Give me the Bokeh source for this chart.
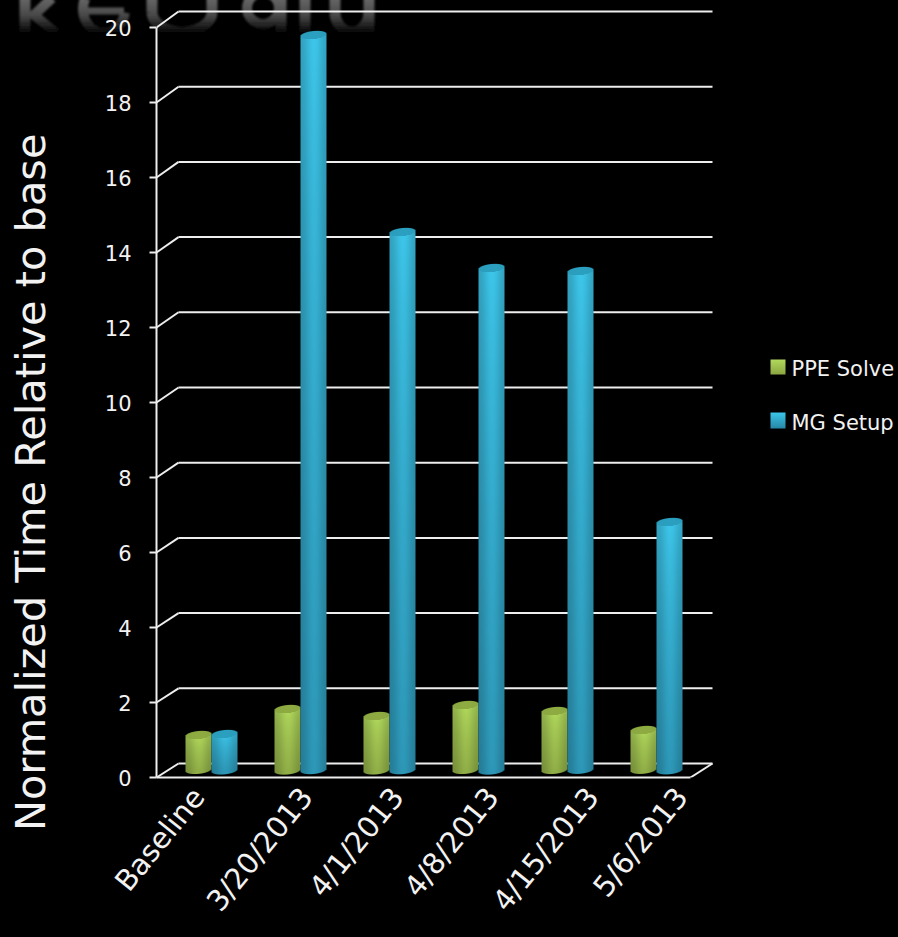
from urllib.parse import quote

import numpy as np
from bokeh.embed import file_html
from bokeh.resources import INLINE
from bokeh.plotting import figure
from bokeh.core.properties import value
from bokeh.models import FixedTicker, LinearAxis, Range1d, Title

# ---- chart values -------------------------------------------------------
categories = ["Baseline", "3/20/2013", "4/1/2013", "4/8/2013", "4/15/2013", "5/6/2013"]
ppe_solve = [0.93, 1.64, 1.45, 1.73, 1.57, 1.06]
mg_setup = [0.97, 19.60, 14.35, 13.40, 13.30, 6.62]
y_ticks = list(range(0, 21, 2))
y_title = "Normalized Time Relative to base"
legend_names = ["PPE Solve", "MG Setup"]

# ---- layout -------------------------------------------------------------
W, H = 898, 937
LEFT, BASE = 156, 777          # pixel position of the front axes' origin
PX_X, PX_Y = 89.0, 37.5        # pixels per category / per value unit
WALL_DX, WALL_BASE, WALL_PX_Y = 22, 763, 37.6   # placement of the rear wall
BAR_DX, BAR_DY = 10.5, 7.5     # the plane the cylinders stand on
BAR_W = 26
LINE = "#eeeeee"
TEXT = "#f2f2f2"
FONT = "DejaVu Sans"

# where each rotated category label ends, as a pixel column
label_end_px = [198, 306, 397, 492, 592, 681]


def dx(px):
    return (px - LEFT) / PX_X


def dy(py):
    return (BASE - py) / PX_Y


# ---- faint mirrored slide heading, painted behind the transparent canvas -
def polyline(points):
    return "M" + " L".join(f"{x:.1f} {y:.1f}" for x, y in points)


def arc(cx, cy, rx, ry, a0, a1):
    angles = np.linspace(a0, a1, 24)
    return polyline(list(zip(cx + rx * np.cos(angles), cy + ry * np.sin(angles))))


heading_strokes = [
    (polyline([(25, -2), (25, 36)]), 11), (polyline([(52, -2), (34, 15), (56, 33)]), 10),
    (arc(104, 9, 21, 24, 0.15, 3.6), 10), (polyline([(84, 11), (124, 11)]), 7),
    (polyline([(152, -2), (152, 12)]) + " " + arc(182, 12, 30, 20, 3.14, 0.0) + " " +
     polyline([(212, 12), (212, -2)]), 11),
    (arc(263, 8, 16, 16, 0.0, 6.3), 10), (polyline([(281, -2), (281, 34)]), 11),
    (polyline([(305, -2), (305, 34)]), 11),
    (polyline([(335, -2), (335, 12)]) + " " + arc(352, 12, 17, 20, 3.14, 0.0), 11),
    (polyline([(369, -2), (369, 34)]), 11),
]
paths = "".join(f"<path d='{d}' stroke-width='{w}'/>" for d, w in heading_strokes)
heading_svg = (
    f"<svg xmlns='http://www.w3.org/2000/svg' width='{W}' height='{H}'>"
    "<defs><linearGradient id='f' gradientUnits='userSpaceOnUse' x1='0' y1='0' x2='0' y2='34'>"
    "<stop offset='0' stop-color='#646464'/><stop offset='0.45' stop-color='#484848'/>"
    "<stop offset='1' stop-color='#000000'/></linearGradient>"
    "<filter id='b'><feGaussianBlur stdDeviation='1.2'/></filter></defs>"
    f"<g fill='none' stroke='url(#f)' filter='url(#b)'>{paths}</g></svg>"
)

p = figure(width=W, height=H, output_backend="svg", toolbar_location=None,
           x_axis_type=None, y_axis_type=None,
           x_range=Range1d(0, (W - LEFT) / PX_X),
           y_range=Range1d(0, BASE / PX_Y),
           min_border_left=LEFT, min_border_right=0, min_border_top=0,
           min_border_bottom=H - BASE,
           background_fill_color=None, border_fill_color=None,
           outline_line_color=None,
           styles={"background-color": "black",
                   "background-image": f'url("data:image/svg+xml,{quote(heading_svg)}")',
                   "background-repeat": "no-repeat"})
p.grid.visible = False

# cylinders stand on a plane shifted back from the front axes
p.extra_x_ranges["bars"] = Range1d(-BAR_DX / PX_X, (W - LEFT - BAR_DX) / PX_X)
p.extra_y_ranges["bars"] = Range1d(-BAR_DY / PX_Y, (BASE - BAR_DY) / PX_Y)
p.extra_x_ranges["wall"] = Range1d(-WALL_DX / PX_X, (W - LEFT - WALL_DX) / PX_X)
p.extra_y_ranges["wall"] = Range1d((WALL_BASE - BASE) / WALL_PX_Y, WALL_BASE / WALL_PX_Y)

# ---- rear wall and floor ------------------------------------------------
n = len(categories)
p.segment(x0=[0] * len(y_ticks), x1=[n] * len(y_ticks), y0=y_ticks, y1=y_ticks,
          x_range_name="wall", y_range_name="wall", line_color=LINE, line_width=2)
p.segment(x0=[0] * len(y_ticks), x1=[WALL_DX / PX_X] * len(y_ticks), y0=y_ticks,
          y1=[dy(WALL_BASE - t * WALL_PX_Y) for t in y_ticks], line_color=LINE, line_width=2)
p.segment(x0=[n], x1=[n + WALL_DX / PX_X], y0=[0], y1=[dy(WALL_BASE)],
          line_color=LINE, line_width=2)


# ---- shaded cylinders ---------------------------------------------------
def cylinder(height_px, top, bottom, cap):
    margin = 7
    rows = int(round(height_px)) + 2 * margin
    yy = np.arange(rows)[:, None] + 0.5 - margin
    u = ((np.arange(BAR_W) + 0.5) / (BAR_W / 2) - 1)[None, :]
    tilt = -1.2 * u
    half = 4.0 * np.sqrt(np.clip(1 - u * u, 0, 1))
    frac = np.clip(yy / max(height_px, 1), 0, 1) ** 0.7
    shade = 0.8 + 0.2 * np.exp(-((u - 0.05) ** 2) / 0.45)
    top, bottom, cap = (np.array(c, dtype=float) for c in (top, bottom, cap))
    rgb = top * (1 - frac[..., None]) + bottom * frac[..., None]
    rgb = rgb * shade[..., None]
    cap_rgb = cap * (0.9 + 0.1 * shade[..., None])
    rgb = np.where((yy < tilt + half)[..., None], cap_rgb, rgb)
    alpha = (np.clip(yy - (tilt - half) + 0.5, 0, 1) *
             np.clip((height_px + tilt + half) - yy + 0.5, 0, 1))
    img = np.dstack([rgb, 255 * alpha]).astype(np.uint8)[::-1]
    return img.view(np.uint32).reshape(img.shape[:2]), margin, rows


palette = {
    "PPE Solve": ((180, 220, 94), (146, 176, 72), (142, 172, 66)),
    "MG Setup": ((62, 200, 236), (46, 152, 184), (44, 160, 192)),
}
w_units = BAR_W / PX_X
for name, values, shift in ((legend_names[0], ppe_solve, -w_units), (legend_names[1], mg_setup, 0.0)):
    for i, v in enumerate(values):
        img, margin, rows = cylinder(v * PX_Y, *palette[name])
        p.image_rgba(image=[img], x=[i + 0.5 + shift], y=[-margin / PX_Y],
                     dw=[w_units], dh=[rows / PX_Y],
                     x_range_name="bars", y_range_name="bars")

# ---- axes ---------------------------------------------------------------
y_axis = LinearAxis(ticker=FixedTicker(ticks=y_ticks), bounds=(0, y_ticks[-1]))
y_axis.axis_line_color = LINE
y_axis.axis_line_width = 2
y_axis.major_tick_line_color = LINE
y_axis.major_tick_line_width = 2
y_axis.major_tick_out = 7
y_axis.major_tick_in = 0
y_axis.minor_tick_line_color = None
y_axis.major_label_standoff = 18
y_axis.major_label_text_color = TEXT
y_axis.major_label_text_font = FONT
y_axis.major_label_text_font_size = "21px"
p.add_layout(y_axis, "left")

label_ticks = [dx(v) for v in label_end_px]
x_axis = LinearAxis(ticker=FixedTicker(ticks=label_ticks), bounds=(0, n),
                    major_label_overrides=dict(zip(label_ticks, categories)))
x_axis.axis_line_color = LINE
x_axis.axis_line_width = 2
x_axis.major_tick_line_color = None
x_axis.minor_tick_line_color = None
x_axis.major_label_orientation = np.deg2rad(51)
x_axis.major_label_standoff = 8
x_axis.major_label_text_color = TEXT
x_axis.major_label_text_font = FONT
x_axis.major_label_text_font_size = "29px"
p.add_layout(x_axis, "below")

# ---- value-axis title and legend ----------------------------------------
# an empty title keeps the gap between the tick labels and the axis title
p.add_layout(Title(text=" ", standoff=34, text_font_size="10px"), "left")
p.add_layout(Title(text=y_title, align="right", offset=133, standoff=0, text_color=TEXT,
                   text_font=FONT, text_font_size="41.5px", text_font_style="normal"), "left")

legend_rows = [(359, 374, 368), (412, 428, 422)]
swatch_colours = [((178, 216, 92), (140, 168, 66)), ((58, 196, 232), (40, 136, 168))]
for name, (top_px, bot_px, text_px), (c0, c1) in zip(legend_names, legend_rows, swatch_colours):
    rows = bot_px - top_px
    ramp = np.linspace(0, 1, rows)[:, None]
    rgb = np.array(c0)[None, :] * (1 - ramp) + np.array(c1)[None, :] * ramp
    img = np.dstack([np.tile(rgb[:, None, :], (1, 15, 1)),
                     np.full((rows, 15), 255.0)]).astype(np.uint8)[::-1]
    p.image_rgba(image=[img.view(np.uint32).reshape(rows, 15)], x=[dx(770)], y=[dy(bot_px)],
                 dw=[15 / PX_X], dh=[rows / PX_Y])
    p.text(x=[dx(791)], y=[dy(text_px)], text=[name], text_color=TEXT,
           text_font=value(FONT), text_font_size="21px", text_baseline="middle")

open("out.html", "w").write(file_html(p, INLINE))
